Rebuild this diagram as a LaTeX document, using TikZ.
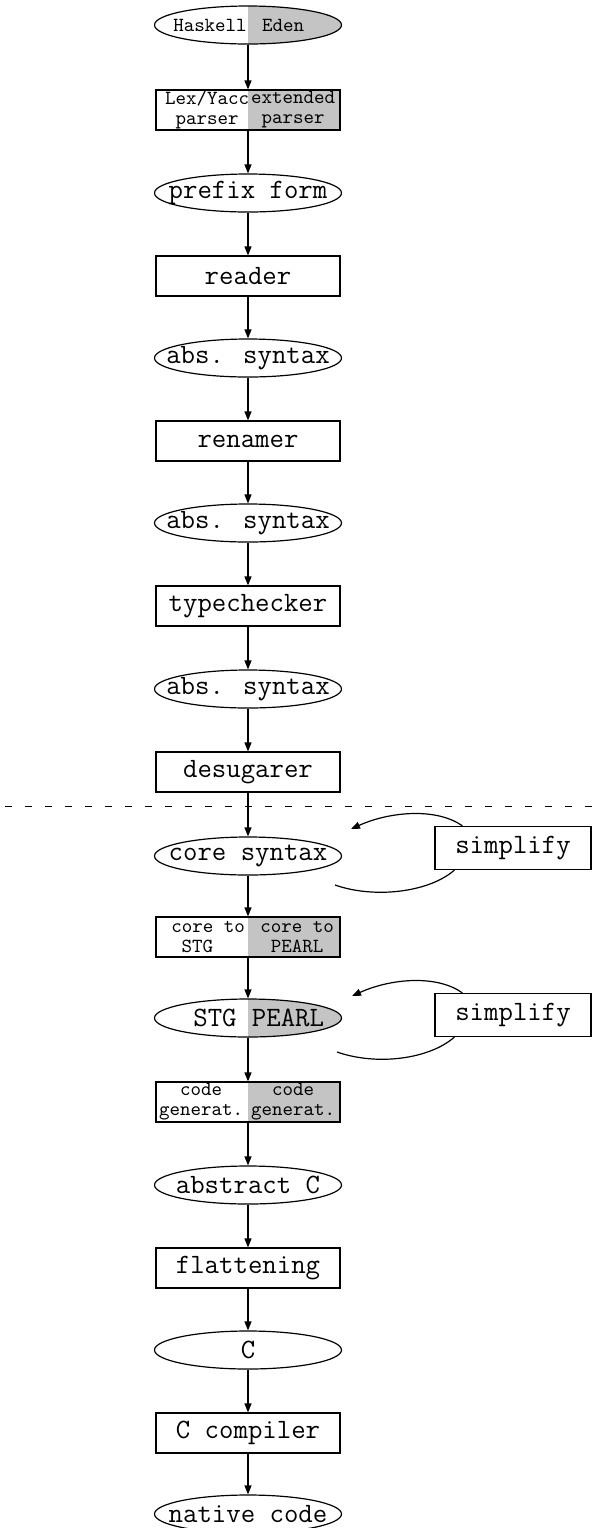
\documentclass[tikz,border=0pt]{standalone}
\usepackage{tikz}
\usetikzlibrary{shapes.geometric,arrows.meta,patterns.meta}
\newcommand{\largett}{\fontsize{14}{15}\selectfont\ttfamily}
\newcommand{\smalltt}{\fontsize{10}{10}\selectfont\ttfamily}

\begin{document}
\begin{tikzpicture}[>={Triangle[length=4.5pt,width=3.5pt]},line width=0.6pt,x={(0.5pt,0pt)},y={(0pt,-0.5pt)}]
 \tikzstyle{stepbox} = [draw=black,rectangle,minimum width=92pt,minimum height=20pt,inner sep=0,font=\largett]
 \tikzstyle{datanode} = [draw=black,ellipse,minimum width=93.5pt,minimum height=19pt,inner xsep=-20pt,inner ysep=0,font=\largett]
 \tikzstyle{sidebox} = [draw=black,rectangle,minimum width=78pt,minimum height=21.5pt,inner sep=0,font=\largett]
 \tikzstyle{halfdots} = [path picture={\fill[pattern={Dots[distance=1pt,radius=0.3pt]}] (path picture bounding box.north) rectangle (path picture bounding box.south east);}]
 \tikzstyle{splittext} = [inner sep=0,align=center,font=\smalltt]
 \tikzstyle{splitbig} = [inner sep=0,font=\largett]
 \newcommand{\cx}{248}

 \useasboundingbox (0,0) rectangle (601,1528);

% Front end
 \node[datanode,halfdots] (hask) at (\cx,25) {};
 \node[splittext] (haskt) at (210,25) {Haskell};
 \node[splittext] (edent) at (283,25) {Eden};
 \node[stepbox,halfdots] (lex) at (\cx,110) {};
 \node[splittext] (lext) at (207,110) {Lex/Yacc\\parser};
 \node[splittext] (extt) at (293,110) {extended\\parser};
 \node[datanode] (pref) at (\cx,193) {prefix form};
 \node[stepbox] (read) at (\cx,276) {reader};
 \node[datanode] (abs1) at (\cx,358) {abs. syntax};
 \node[stepbox] (ren) at (\cx,441) {renamer};
 \node[datanode] (abs2) at (\cx,523) {abs. syntax};
 \node[stepbox] (tc) at (\cx,606) {typechecker};
 \node[datanode] (abs3) at (\cx,689) {abs. syntax};
 \node[stepbox] (desug) at (\cx,772) {desugarer};

% Dividing line
 \draw[line width=0.5pt,dash pattern=on 3.5pt off 6.5pt] (5,806) -- (601,806);

% Back end
 \node[datanode] (core) at (\cx,856) {core syntax};
 \node[stepbox,halfdots] (cto) at (\cx,937) {};
 \node[splittext,align=left] (ctot) at (208,937) {core to\\\hphantom{x}STG};
 \node[splittext] (ctop) at (297,937) {core to\\PEARL};
 \node[datanode,halfdots] (stg) at (\cx,1018) {};
 \node[splitbig] (stgt) at (215,1018) {STG};
 \node[splitbig] (pearlt) at (288,1018) {PEARL};
 \node[stepbox,halfdots] (cgen) at (\cx,1102) {};
 \node[splittext] (cgent) at (201,1102) {code\\generat.};
 \node[splittext] (cgenp) at (293,1102) {code\\generat.};
 \node[datanode] (absc) at (\cx,1185) {abstract C};
 \node[stepbox] (flat) at (\cx,1268) {flattening};
 \node[datanode] (cc) at (\cx,1350) {C};
 \node[stepbox] (ccomp) at (\cx,1433) {C compiler};
 \node[datanode] (nat) at (\cx,1514) {native code};

% Simplifier loops
 \node[sidebox] (simp1) at (513,848) {simplify};
 \node[sidebox] (simp2) at (513,1015) {simplify};
 \coordinate (in1) at (351,829);
 \coordinate (out1) at (335,885);
 \coordinate (in2) at (352,996);
 \coordinate (out2) at (337,1052);

% Arrows
 \draw[->] (hask) -- (lex);
 \draw[->] (lex) -- (pref);
 \draw[->] (pref) -- (read);
 \draw[->] (read) -- (abs1);
 \draw[->] (abs1) -- (ren);
 \draw[->] (ren) -- (abs2);
 \draw[->] (abs2) -- (tc);
 \draw[->] (tc) -- (abs3);
 \draw[->] (abs3) -- (desug);
 \draw[->] (desug) -- (core);
 \draw[->] (core) -- (cto);
 \draw[->] (cto) -- (stg);
 \draw[->] (stg) -- (cgen);
 \draw[->] (cgen) -- (absc);
 \draw[->] (absc) -- (flat);
 \draw[->] (flat) -- (cc);
 \draw[->] (cc) -- (ccomp);
 \draw[->] (ccomp) -- (nat);
 \draw[->] ([xshift=14pt]simp1.north west) .. controls +(-25,-18) and +(40,-18) .. (in1);
 \draw (out1) .. controls +(40,14) and +(-25,22) .. ([xshift=10pt]simp1.south west);
 \draw[->] ([xshift=14pt]simp2.north west) .. controls +(-25,-18) and +(40,-18) .. (in2);
 \draw (out2) .. controls +(40,14) and +(-25,22) .. ([xshift=10pt]simp2.south west);

\end{tikzpicture}
\end{document}
